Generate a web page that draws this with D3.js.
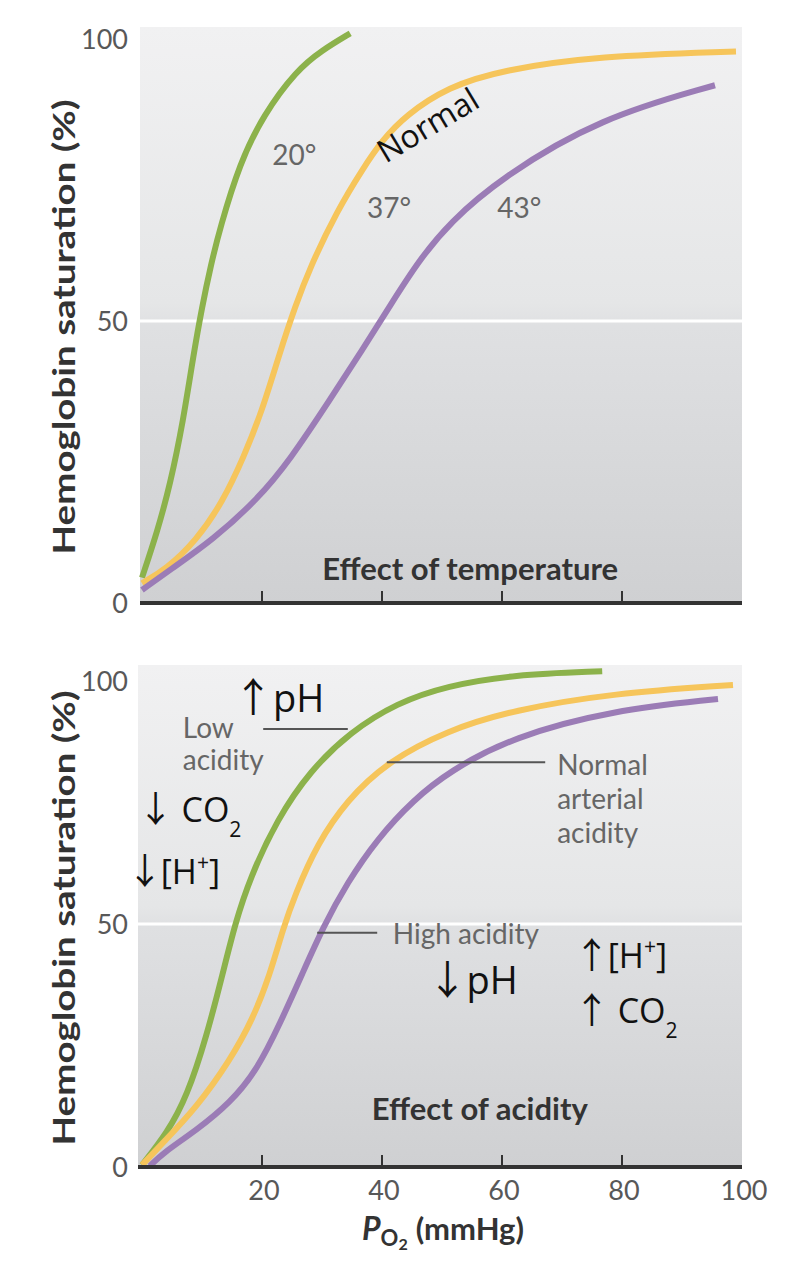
<!DOCTYPE html>
<html>
<head>
<meta charset="utf-8">
<script src="https://cdn.jsdelivr.net/npm/d3@7"></script>
<style>
    body { margin: 0; background: #ffffff; }
    svg { display: block; }
    .tick-label { font-family: Lato, "Open Sans", sans-serif; font-size: 27px; fill: #585858; }
    .axis-title { font-family: Lato, sans-serif; font-weight: bold; font-size: 30px; fill: #333333; }
    .panel-title { font-family: Lato, sans-serif; font-weight: bold; font-size: 30px; fill: #333333; }
    .note { font-family: Lato, sans-serif; font-size: 28px; fill: #666666; }
    .callout { font-family: "Open Sans", "Liberation Sans", sans-serif; fill: #111111; }
    .arrow { font-family: "Noto Sans CJK SC", "DejaVu Sans", sans-serif; }
</style>
</head>
<body>
<div id="chart"></div>
<script>
// Axis values
const xTicks = [20, 40, 60, 80, 100];
const yTicks = [0, 50, 100];

// Effect of temperature: [PO2 mmHg, saturation %]
const temp20 = [[0, 4.5], [2.5, 12.5], [4.7, 21], [6.9, 32.5], [8.5, 43.5], [10, 52.5], [11.5, 60], [13, 66.5],
                [16.3, 78], [20.2, 86.5], [25.8, 94.5], [30, 98], [34.7, 101]];
const temp37 = [[0, 3.5], [4, 6], [9, 11], [13.5, 18], [17, 26], [20, 34], [23, 44.5], [25.5, 52.5], [28, 59.5],
                [32.5, 69.5], [36.8, 77], [40, 82], [44, 86.5], [51, 91.5], [60, 94.5], [76, 97], [99, 97.8]];
const temp43 = [[0, 2.3], [4.7, 5.9], [11.8, 11.2], [19.2, 18.3], [24.7, 25.4], [31.3, 36], [36.8, 45], [41.5, 53],
                [46, 60.5], [51.3, 67.5], [60, 75.5], [76.3, 86], [95.5, 91.8]];

// Effect of acidity
const acidLow = [[0, 0.4], [4.2, 7], [7.5, 14.5], [10.8, 27], [13.5, 40], [15.5, 50], [18, 59.5], [22.5, 71.5],
                 [28, 81.5], [34.7, 89.5], [42.5, 95.5], [50.8, 99], [61.8, 101.3], [76.7, 102]];
const acidNormal = [[0, 0.4], [3.5, 5], [9.1, 12.3], [14.7, 22], [18.5, 30.5], [21.3, 39.5], [23.5, 49], [25.5, 56],
                    [29.2, 66.5], [34.2, 75.5], [40.8, 83.3], [50.8, 89.8], [61.8, 94], [78.5, 97.5], [98.5, 99.2]];
const acidHigh = [[1.3, 0.2], [3.5, 2.9], [9.1, 7.6], [14.7, 13.2], [19.2, 20], [23, 29.5], [26.8, 40], [30.2, 49.4],
                  [34.2, 58.5], [39.2, 67.5], [45.2, 75.5], [51.3, 81.5], [61.8, 88.5], [78.5, 94], [96, 96.3]];

const colors = {green: "#8cb24b", yellow: "#f6c55b", purple: "#9b7cb6"};

const width = 790, height = 1276;

const svg = d3.select("#chart")
    .append("svg")
    .attr("width", width)
    .attr("height", height);

const defs = svg.append("defs");
const grad = defs.append("linearGradient")
    .attr("id", "panel-bg")
    .attr("x1", 0).attr("y1", 0).attr("x2", 0).attr("y2", 1);
grad.append("stop").attr("offset", "0%").attr("stop-color", "#f1f1f2");
grad.append("stop").attr("offset", "48%").attr("stop-color", "#e5e6e7");
grad.append("stop").attr("offset", "52%").attr("stop-color", "#dfe0e2");
grad.append("stop").attr("offset", "100%").attr("stop-color", "#cfd0d2");

const xScale = d3.scaleLinear()
    .domain([0, 100])
    .range([142, 742]);

// Panels
const paramsTop = {
    bgTop: 27,
    bgLeft: 140,
    bgRight: 742,
    yRange: [603, 39],
    titleY: 327,
    xLabels: false
}

const paramsBottom = {
    bgTop: 665,
    bgLeft: 138,
    bgRight: 742,
    yRange: [1167, 681],
    titleY: 918,
    xLabels: true
}

function drawPanel(p, series) {
    const g = svg.append("g");

    const yScale = d3.scaleLinear()
        .domain([0, 100])
        .range(p.yRange);

    g.append("rect")
        .attr("x", p.bgLeft)
        .attr("y", p.bgTop)
        .attr("width", p.bgRight - p.bgLeft)
        .attr("height", p.yRange[0] - p.bgTop)
        .attr("fill", "url(#panel-bg)");

    // white line at 50%
    g.append("line")
        .attr("x1", p.bgLeft)
        .attr("x2", p.bgRight)
        .attr("y1", yScale(50))
        .attr("y2", yScale(50))
        .attr("stroke", "#ffffff")
        .attr("stroke-width", 3);

    const line = d3.line()
        .x(d => xScale(d[0]))
        .y(d => yScale(d[1]))
        .curve(d3.curveBasis);

    series.forEach(s => {
        g.append("path")
            .datum(s.values)
            .attr("d", line)
            .attr("fill", "none")
            .attr("stroke", s.color)
            .attr("stroke-width", 6);
    });

    // x axis
    g.append("line")
        .attr("x1", p.bgLeft)
        .attr("x2", p.bgRight)
        .attr("y1", yScale(0))
        .attr("y2", yScale(0))
        .attr("stroke", "#333333")
        .attr("stroke-width", 4);

    g.selectAll(".xtick")
        .data(xTicks.filter(d => d < 100))
        .join("line")
        .attr("x1", d => xScale(d))
        .attr("x2", d => xScale(d))
        .attr("y1", yScale(0))
        .attr("y2", yScale(0) - 12)
        .attr("stroke", "#333333")
        .attr("stroke-width", 2);

    if (p.xLabels) {
        g.selectAll(".xlabel")
            .data(xTicks)
            .join("text")
            .attr("class", "tick-label")
            .attr("x", d => xScale(d) + 2)
            .attr("y", yScale(0) + 33)
            .attr("text-anchor", "middle")
            .text(d => d);
    }

    g.selectAll(".ylabel")
        .data(yTicks)
        .join("text")
        .attr("class", "tick-label")
        .attr("x", 128)
        .attr("y", d => yScale(d))
        .attr("dy", "0.36em")
        .attr("text-anchor", "end")
        .text(d => d);

    g.append("text")
        .attr("class", "axis-title")
        .attr("transform", `translate(75, ${p.titleY}) rotate(-90)`)
        .attr("text-anchor", "middle")
        .attr("textLength", 455)
        .attr("lengthAdjust", "spacingAndGlyphs")
        .text("Hemoglobin saturation (%)");

    return yScale;
}

// Top panel: temperature
const yTop = drawPanel(paramsTop, [
    {values: temp20, color: colors.green},
    {values: temp37, color: colors.yellow},
    {values: temp43, color: colors.purple}
]);

svg.append("text").attr("class", "note")
    .attr("x", xScale(21.7)).attr("y", yTop(77.7)).text("20°");
svg.append("text").attr("class", "note")
    .attr("x", xScale(37.5)).attr("y", yTop(68.3)).text("37°");
svg.append("text").attr("class", "note")
    .attr("x", xScale(59.2)).attr("y", yTop(68.3)).text("43°");

svg.append("text")
    .attr("class", "callout")
    .attr("font-size", 32)
    .attr("text-anchor", "middle")
    .attr("transform", `translate(${xScale(48.6)}, ${yTop(83)}) rotate(-31)`)
    .text("Normal");

svg.append("text")
    .attr("class", "panel-title")
    .attr("x", xScale(54.7))
    .attr("y", yTop(4))
    .attr("text-anchor", "middle")
    .attr("textLength", 296)
    .attr("lengthAdjust", "spacingAndGlyphs")
    .text("Effect of temperature");

// Bottom panel: acidity
const yBot = drawPanel(paramsBottom, [
    {values: acidLow, color: colors.green},
    {values: acidNormal, color: colors.yellow},
    {values: acidHigh, color: colors.purple}
]);

// leader lines
const leaders = [[20.2, 34.3, 90.1], [40.8, 67.2, 83.3], [29.2, 39.2, 48.2]];
svg.selectAll(".leader")
    .data(leaders)
    .join("line")
    .attr("x1", d => xScale(d[0]))
    .attr("x2", d => xScale(d[1]))
    .attr("y1", d => yBot(d[2]))
    .attr("y2", d => yBot(d[2]))
    .attr("stroke", "#555555")
    .attr("stroke-width", 2);

function noteLines(lines, px, py, step, size) {
    const t = svg.append("text").attr("class", "note").attr("font-size", size);
    lines.forEach((s, i) => {
        t.append("tspan")
            .attr("x", xScale(px))
            .attr("y", yBot(py) + i * step)
            .text(s);
    });
}

noteLines(["Low", "acidity"], 6.8, 88.3, 32, 28);
noteLines(["Normal", "arterial", "acidity"], 69.2, 80.7, 34, 28);
noteLines(["High acidity"], 41.8, 45.9, 0, 29);

function callout(px, py, size, arrow, gap, parts) {
    const t = svg.append("text")
        .attr("class", "callout")
        .attr("font-size", size)
        .attr("x", xScale(px))
        .attr("y", yBot(py));
    t.append("tspan").attr("class", "arrow").attr("font-size", size * 1.05).text(arrow);
    parts.forEach((part, i) => {
        const ts = t.append("tspan").text(part.text);
        if (i === 0) ts.attr("dx", gap);
        if (part.shift) {
            ts.attr("font-size", size * 0.62)
              .attr("baseline-shift", part.shift);
        }
    });
}

callout(15.2, 93.6, 38, "↑", 0, [{text: "pH"}]);
callout(-0.7, 71, 34, "↓", 8, [{text: "CO"}, {text: "2", shift: "sub"}]);
callout(-2.5, 58.2, 34, "↓", -2, [{text: "[H"}, {text: "+", shift: "super"}, {text: "]"}]);
callout(47.6, 35.6, 38, "↓", -1, [{text: "pH"}]);
callout(72.0, 41, 34, "↑", -2, [{text: "[H"}, {text: "+", shift: "super"}, {text: "]"}]);
callout(72.0, 29.6, 34, "↑", 8, [{text: "CO"}, {text: "2", shift: "sub"}]);

svg.append("text")
    .attr("class", "panel-title")
    .attr("x", xScale(56.3))
    .attr("y", yBot(9.7))
    .attr("text-anchor", "middle")
    .attr("textLength", 216)
    .attr("lengthAdjust", "spacingAndGlyphs")
    .text("Effect of acidity");

// x axis title
const xTitle = svg.append("text")
    .attr("class", "panel-title")
    .attr("x", 362)
    .attr("y", 1240);
xTitle.append("tspan").attr("font-style", "italic").attr("font-size", 32).text("P");
xTitle.append("tspan").attr("font-size", 22).attr("baseline-shift", "-6").text("O");
xTitle.append("tspan").attr("font-size", 16).attr("baseline-shift", "-10").text("2");
xTitle.append("tspan").attr("dx", 8).attr("font-size", 31).text("(mmHg)");
</script>
</body>
</html>
